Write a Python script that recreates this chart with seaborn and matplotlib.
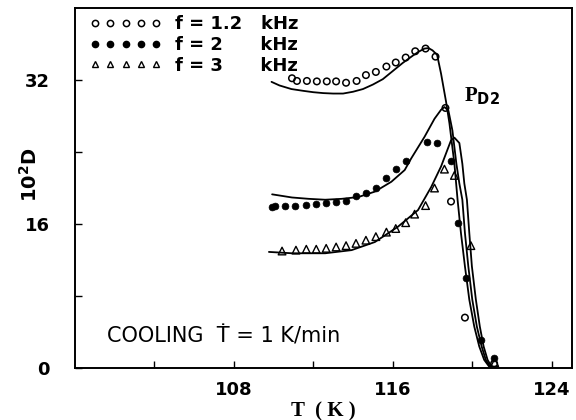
import matplotlib
matplotlib.use("Agg")
import matplotlib.pyplot as plt
from matplotlib.lines import Line2D
from matplotlib.ticker import FixedLocator
import seaborn as sns
import pandas as pd

# ---- data ----
# measured points
T_12 = [110.93, 111.18, 111.68, 112.18, 112.68, 113.15, 113.65, 114.18, 114.65, 115.15,
        115.68, 116.15, 116.65, 117.13, 117.65, 118.15, 118.65, 118.93, 119.63, 121.1]
D_12 = [32.2, 31.9, 31.9, 31.85, 31.85, 31.85, 31.7, 31.9, 32.55, 32.9,
        33.5, 33.95, 34.5, 35.2, 35.5, 34.6, 28.9, 18.5, 5.6, 0.5]

T_2 = [109.93, 110.1, 110.6, 111.1, 111.65, 112.15, 112.65, 113.15, 113.65, 114.15, 114.65,
       115.15, 115.68, 116.15, 116.68, 117.7, 118.2, 118.93, 119.3, 119.7, 120.43, 121.1]
D_2 = [17.85, 18.0, 18.0, 18.05, 18.1, 18.2, 18.3, 18.45, 18.55, 19.1, 19.5,
       20.0, 21.1, 22.1, 23.0, 25.1, 25.0, 23.0, 16.1, 10.0, 3.1, 1.15]

T_3 = [110.43, 111.13, 111.65, 112.15, 112.65, 113.15, 113.65, 114.15, 114.65, 115.15,
       115.68, 116.15, 116.65, 117.1, 117.65, 118.1, 118.6, 119.1, 119.93, 121.13]
D_3 = [13.0, 13.1, 13.2, 13.2, 13.3, 13.45, 13.6, 13.85, 14.2, 14.6,
       15.1, 15.5, 16.15, 17.1, 18.05, 20.0, 22.1, 21.4, 13.6, 0.6]

# fitted curves
Tc_12 = [109.9, 110.3, 110.9, 111.5, 112.0, 112.5, 113.0, 113.5, 114.0, 114.5, 115.0, 115.5,
         116.0, 116.5, 117.0, 117.3, 117.6, 117.8, 118.0, 118.23, 118.43, 118.68, 118.85,
         119.1, 119.26, 119.43, 119.63, 119.85, 120.1, 120.35, 120.6, 120.85]
Dc_12 = [31.8, 31.4, 31.0, 30.8, 30.65, 30.55, 30.5, 30.5, 30.7, 31.0, 31.5, 32.1,
         33.0, 33.9, 34.7, 35.15, 35.5, 35.55, 35.3, 34.8, 32.7, 29.6, 27.2,
         22.7, 18.7, 15.0, 11.3, 7.6, 4.6, 2.4, 0.9, 0.15]

Tc_2 = [109.93, 110.93, 111.77, 112.6, 113.43, 114.27, 115.1, 115.93, 116.6, 116.93, 117.6,
        118.1, 118.43, 118.6, 118.8, 119.0, 119.2, 119.35, 119.5, 119.63, 119.8, 120.0,
        120.23, 120.47, 120.68, 120.9]
Dc_2 = [19.3, 18.95, 18.8, 18.7, 18.8, 19.0, 19.6, 20.7, 22.0, 23.3, 25.7,
        27.7, 28.7, 29.0, 28.6, 26.4, 22.7, 20.5, 18.7, 15.0, 11.3, 7.6,
        4.6, 2.4, 0.9, 0.15]

Tc_3 = [109.77, 110.93, 112.6, 113.93, 115.1, 116.26, 117.27, 117.93, 118.43, 118.93, 119.1,
        119.35, 119.5, 119.6, 119.73, 119.85, 119.98, 120.18, 120.38, 120.57, 120.77, 120.97]
Dc_3 = [12.9, 12.75, 12.75, 13.1, 14.0, 15.7, 17.55, 20.1, 22.4, 25.3, 25.6,
        25.0, 22.7, 20.5, 18.7, 15.0, 11.3, 7.6, 4.6, 2.4, 0.9, 0.15]

legend_labels = ["f = 1.2   kHz", "f = 2      kHz", "f = 3      kHz"]
x_major = [108, 116, 124]
x_minor = [104, 112, 120]
y_major = [0, 16, 32]
y_minor = [8, 24]

# ---- plotting ----
sns.set_style("ticks")
plt.rcParams["font.family"] = ["DejaVu Sans"]
plt.rcParams["text.color"] = "black"
plt.rcParams["axes.labelcolor"] = "black"
plt.rcParams["xtick.color"] = "black"
plt.rcParams["ytick.color"] = "black"
plt.rcParams["mathtext.default"] = "bf"

fig = plt.figure(figsize=(5.76, 4.2), dpi=100)
ax = fig.add_axes([0.1297, 0.1238, 0.8628, 0.857])

for Tc, Dc in [(Tc_12, Dc_12), (Tc_2, Dc_2), (Tc_3, Dc_3)]:
    df = pd.DataFrame({"T": Tc, "D": Dc})
    sns.lineplot(data=df, x="T", y="D", sort=False, estimator=None,
                 color="black", lw=1.3, ax=ax)

sns.scatterplot(x=T_12, y=D_12, marker="o", s=22, facecolor="none",
                edgecolor="black", linewidth=1.1, ax=ax, zorder=3)
sns.scatterplot(x=T_2, y=D_2, marker="o", s=24, color="black",
                edgecolor="black", linewidth=0.5, ax=ax, zorder=3)
sns.scatterplot(x=T_3, y=D_3, marker="^", s=30, facecolor="none",
                edgecolor="black", linewidth=1.0, ax=ax, zorder=3)

ax.set_xlim(100, 125)
ax.set_ylim(0, 40)
ax.xaxis.set_major_locator(FixedLocator(x_major))
ax.xaxis.set_minor_locator(FixedLocator(x_minor))
ax.yaxis.set_major_locator(FixedLocator(y_major))
ax.yaxis.set_minor_locator(FixedLocator(y_minor))
ax.tick_params(which="both", direction="in", length=5, width=1.0, colors="black")
ax.tick_params(axis="x", pad=9, labelsize=13)
ax.tick_params(axis="y", pad=18, labelsize=13)
for lab in ax.get_xticklabels() + ax.get_yticklabels():
    lab.set_fontweight("bold")
for sp in ax.spines.values():
    sp.set_visible(True)
    sp.set_linewidth(1.4)
    sp.set_color("black")

ax.set_xlabel("T  ( K )", fontsize=15, fontweight="bold",
              family=["Liberation Serif", "DejaVu Serif"], labelpad=2)
ax.set_ylabel("10$^{2}$D", fontsize=14, fontweight="bold")
ax.yaxis.set_label_coords(-0.068, 0.536)

ax.text(119.6, 30.2, "P$_{D2}$", fontsize=15, fontweight="bold",
        family=["Liberation Serif", "DejaVu Serif"], ha="left", va="center")
ax.text(101.6, 3.5, "COOLING  Ṫ = 1 K/min", fontsize=15,
        family=["DejaVu Sans"], ha="left", va="center")

handles = [
    Line2D([], [], ls="none", marker="o", ms=4.5, mfc="none", mec="black", mew=1.1),
    Line2D([], [], ls="none", marker="o", ms=4.5, mfc="black", mec="black"),
    Line2D([], [], ls="none", marker="^", ms=5, mfc="none", mec="black", mew=1.0),
]
leg = ax.legend(handles, legend_labels, loc="upper left", bbox_to_anchor=(0.03, 0.98),
                frameon=False, numpoints=5, handlelength=4.0, handletextpad=0.75,
                labelspacing=0.15, borderpad=0, borderaxespad=0,
                prop={"size": 13, "weight": "bold"})

fig.savefig("out.png", dpi=100)
